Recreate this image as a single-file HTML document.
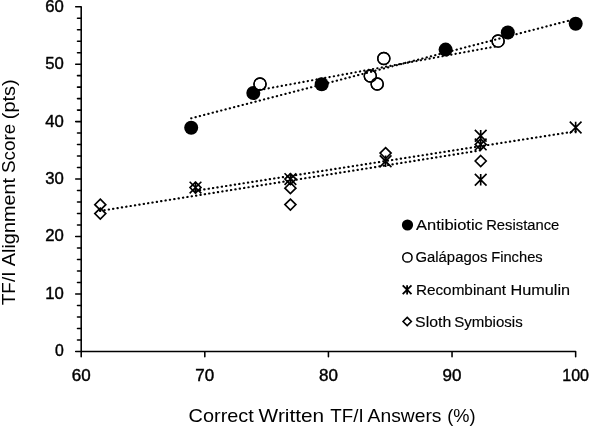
<!DOCTYPE html>
<html lang="en"><head><meta charset="utf-8"><title>TF/I Alignment Score vs Correct Written TF/I Answers</title>
<style>html,body{margin:0;padding:0;background:#fff;}svg{display:block;}text{font-family:"Liberation Sans", Arial, sans-serif;fill:#000;stroke:#000;stroke-width:0.15;}.ti{stroke:none;}.tk text{stroke-width:0.4;}.ax{stroke:#000;stroke-width:1.55;fill:none;stroke-linecap:round;stroke-linejoin:round;}.tl{stroke:#000;stroke-width:2.15;fill:none;stroke-linecap:round;stroke-dasharray:0.3 4.12;}.mk{stroke:#000;stroke-width:1.65;fill:none;}</style></head><body>
<svg width="589" height="426" viewBox="0 0 589 426">
<rect width="589" height="426" fill="#fff"/>
<path class="ax" d="M81.20 6.70V351.40H575.65M81.20 351.40h-5.50M81.20 339.91h-3.70M81.20 328.42h-3.70M81.20 316.93h-3.70M81.20 305.44h-3.70M81.20 293.95h-5.50M81.20 282.46h-3.70M81.20 270.97h-3.70M81.20 259.48h-3.70M81.20 247.99h-3.70M81.20 236.50h-5.50M81.20 225.01h-3.70M81.20 213.52h-3.70M81.20 202.03h-3.70M81.20 190.54h-3.70M81.20 179.05h-5.50M81.20 167.56h-3.70M81.20 156.07h-3.70M81.20 144.58h-3.70M81.20 133.09h-3.70M81.20 121.60h-5.50M81.20 110.11h-3.70M81.20 98.62h-3.70M81.20 87.13h-3.70M81.20 75.64h-3.70M81.20 64.15h-5.50M81.20 52.66h-3.70M81.20 41.17h-3.70M81.20 29.68h-3.70M81.20 18.19h-3.70M81.20 6.70h-5.50M81.20 351.40v5.4M204.81 351.40v5.4M328.43 351.40v5.4M452.04 351.40v5.4M575.65 351.40v5.4"/>
<g font-size="15.7" class="tk" text-anchor="end">
<text x="63.9" y="11.60" textLength="18.6" lengthAdjust="spacingAndGlyphs">60</text>
<text x="63.9" y="69.05" textLength="18.6" lengthAdjust="spacingAndGlyphs">50</text>
<text x="63.9" y="126.50" textLength="18.6" lengthAdjust="spacingAndGlyphs">40</text>
<text x="63.9" y="183.95" textLength="18.6" lengthAdjust="spacingAndGlyphs">30</text>
<text x="63.9" y="241.40" textLength="18.6" lengthAdjust="spacingAndGlyphs">20</text>
<text x="63.9" y="298.85" textLength="18.6" lengthAdjust="spacingAndGlyphs">10</text>
<text x="63.9" y="356.30" textLength="8.8" lengthAdjust="spacingAndGlyphs">0</text>
</g>
<g font-size="15.7" class="tk" text-anchor="middle">
<text x="81.20" y="380.6" textLength="18.9" lengthAdjust="spacingAndGlyphs">60</text>
<text x="204.81" y="380.6" textLength="18.9" lengthAdjust="spacingAndGlyphs">70</text>
<text x="328.43" y="380.6" textLength="18.9" lengthAdjust="spacingAndGlyphs">80</text>
<text x="452.04" y="380.6" textLength="18.9" lengthAdjust="spacingAndGlyphs">90</text>
<text x="575.65" y="380.6" textLength="26.8" lengthAdjust="spacingAndGlyphs">100</text>
</g>
<text class="ti" y="422.3" font-size="17.7"><tspan x="188.60" textLength="65.21" lengthAdjust="spacingAndGlyphs">Correct</tspan> <tspan x="258.63" textLength="65.52" lengthAdjust="spacingAndGlyphs">Written</tspan> <tspan x="330.36" textLength="33.32" lengthAdjust="spacingAndGlyphs">TF/I</tspan> <tspan x="367.64" textLength="73.84" lengthAdjust="spacingAndGlyphs">Answers</tspan> <tspan x="447.21" textLength="28.34" lengthAdjust="spacingAndGlyphs">(%)</tspan></text>
<text class="ti" transform="translate(15.1 305) rotate(-90)" font-size="17.7"><tspan x="-0.22" textLength="33.71" lengthAdjust="spacingAndGlyphs">TF/I</tspan> <tspan x="38.86" textLength="88.05" lengthAdjust="spacingAndGlyphs">Alignment</tspan> <tspan x="132.06" textLength="49.06" lengthAdjust="spacingAndGlyphs">Score</tspan> <tspan x="185.87" textLength="39.71" lengthAdjust="spacingAndGlyphs">(pts)</tspan></text>
<g fill="#000">
<circle cx="191.20" cy="127.70" r="7"/>
<circle cx="253.30" cy="93.00" r="7"/>
<circle cx="321.70" cy="84.20" r="7"/>
<circle cx="445.60" cy="49.60" r="7"/>
<circle cx="507.80" cy="32.50" r="7"/>
<circle cx="575.70" cy="23.70" r="7"/>
</g>
<g stroke="#000" stroke-width="1.4">
<circle cx="260.00" cy="84.00" r="6.05" fill="#fff"/>
<circle cx="377.20" cy="84.00" r="6.05" fill="#fff"/>
<circle cx="370.30" cy="76.00" r="6.05" fill="#fff"/>
<circle cx="383.80" cy="58.50" r="6.05" fill="#fff"/>
<circle cx="498.10" cy="41.10" r="6.05" fill="#fff"/>
<circle cx="260.00" cy="84.00" r="6.05" fill="none"/>
<circle cx="377.20" cy="84.00" r="6.05" fill="none"/>
<circle cx="370.30" cy="76.00" r="6.05" fill="none"/>
<circle cx="383.80" cy="58.50" r="6.05" fill="none"/>
<circle cx="498.10" cy="41.10" r="6.05" fill="none"/>
</g>
<path class="mk" d="M189.65 181.75l11.70 11.70M189.65 193.45l11.70 -11.70M195.50 181.80v11.60M284.55 173.25l11.70 11.70M284.55 184.95l11.70 -11.70M290.40 173.30v11.60M379.75 155.45l11.70 11.70M379.75 167.15l11.70 -11.70M385.60 155.50v11.60M474.85 129.85l11.70 11.70M474.85 141.55l11.70 -11.70M480.70 129.90v11.60M474.85 138.55l11.70 11.70M474.85 150.25l11.70 -11.70M480.70 138.60v11.60M474.85 173.95l11.70 11.70M474.85 185.65l11.70 -11.70M480.70 174.00v11.60M569.80 121.65l11.70 11.70M569.80 133.35l11.70 -11.70M575.65 121.70v11.60"/>
<path class="mk" stroke-linejoin="miter" d="M100.30 199.20l5.50 5.50l-5.50 5.50l-5.50 -5.50zM100.30 208.10l5.50 5.50l-5.50 5.50l-5.50 -5.50zM195.50 182.10l5.50 5.50l-5.50 5.50l-5.50 -5.50zM290.40 173.60l5.50 5.50l-5.50 5.50l-5.50 -5.50zM290.40 182.70l5.50 5.50l-5.50 5.50l-5.50 -5.50zM290.40 199.10l5.50 5.50l-5.50 5.50l-5.50 -5.50zM385.60 147.60l5.50 5.50l-5.50 5.50l-5.50 -5.50zM480.70 138.90l5.50 5.50l-5.50 5.50l-5.50 -5.50zM480.70 155.50l5.50 5.50l-5.50 5.50l-5.50 -5.50z"/>
<path class="tl" d="M191.20 118.30L575.70 18.90"/>
<path class="tl" d="M259.90 89.90L498.10 46.00"/>
<path class="tl" d="M195.50 190.80L575.65 131.30"/>
<path class="tl" d="M100.00 210.90L480.70 150.30"/>
<circle cx="407.5" cy="225.0" r="5.6" fill="#000"/>
<circle cx="407.4" cy="257.4" r="4.65" fill="#fff" stroke="#000" stroke-width="1.5"/>
<path d="M402.70 285.40l8.80 8.80M402.70 294.20l8.80 -8.80M407.10 285.20v9.20" stroke="#000" stroke-width="1.8" fill="none"/>
<path d="M407.20 317.35l4.15 4.15l-4.15 4.15l-4.15 -4.15z" stroke="#000" stroke-width="1.6" fill="none"/>
<g font-size="15.5">
<text y="229.9"><tspan x="416.03" textLength="66.84" lengthAdjust="spacingAndGlyphs">Antibiotic</tspan> <tspan x="486.19" textLength="73.13" lengthAdjust="spacingAndGlyphs">Resistance</tspan></text>
<text y="262.3"><tspan x="415.52" textLength="71.82" lengthAdjust="spacingAndGlyphs">Galápagos</tspan> <tspan x="491.19" textLength="51.47" lengthAdjust="spacingAndGlyphs">Finches</tspan></text>
<text y="294.6"><tspan x="415.93" textLength="90.13" lengthAdjust="spacingAndGlyphs">Recombinant</tspan> <tspan x="510.43" textLength="59.62" lengthAdjust="spacingAndGlyphs">Humulin</tspan></text>
<text y="326.8"><tspan x="415.09" textLength="36.15" lengthAdjust="spacingAndGlyphs">Sloth</tspan> <tspan x="454.13" textLength="68.55" lengthAdjust="spacingAndGlyphs">Symbiosis</tspan></text>
</g>
</svg></body></html>
